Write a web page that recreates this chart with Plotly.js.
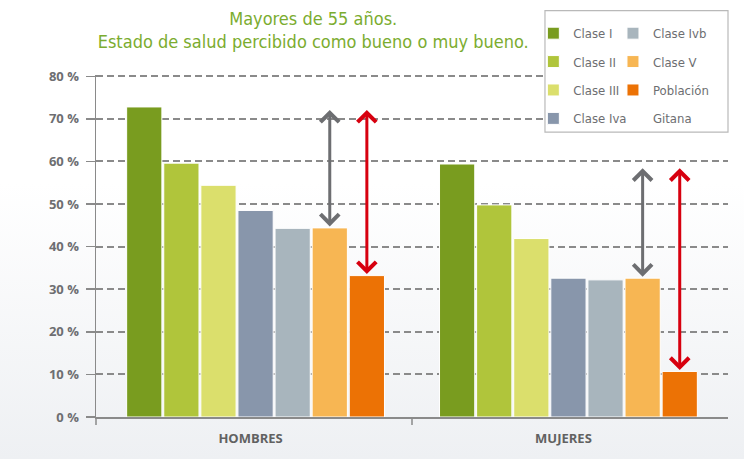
<!DOCTYPE html>
<html><head><meta charset="utf-8">
<script src="https://cdn.plot.ly/plotly-3.0.1.min.js"></script>
<style>
html,body{margin:0;padding:0;}
body{width:744px;height:459px;background:linear-gradient(to bottom,#ffffff 0%,#ffffff 40%,#eef0f3 100%);}
#chart{width:744px;height:459px;}
</style>
</head><body><div id="chart"></div>
<script>
// ---- data ----
const categories = ['HOMBRES', 'MUJERES'];
const seriesNames = ['Clase I', 'Clase II', 'Clase III', 'Clase Iva', 'Clase Ivb', 'Clase V', 'Población'];
const claseI = [72.8, 59.4];
const claseII = [59.6, 49.8];
const claseIII = [54.4, 41.9];
const claseIVa = [48.5, 32.6];
const claseIVb = [44.3, 32.2];
const claseV = [44.4, 32.6];
const poblacionGitana = [33.2, 10.7];
const gapTop = [72.1, 58.4];          // upper ends of the comparison arrows
const yTickVals = [0, 10, 20, 30, 40, 50, 60, 70, 80];
const yTickText = yTickVals.map(v => v + ' %');
const legendExtraLine = 'Gitana';

// ---- styles ----
const colors = ['#799c1f', '#b0c53b', '#dbdf6c', '#8896ab', '#a8b5bd', '#f7b653', '#ec7205'];
const seriesValues = [claseI, claseII, claseIII, claseIVa, claseIVb, claseV, poblacionGitana];
const legendOf = ['legend', 'legend', 'legend', 'legend', 'legend2', 'legend2', 'legend2'];
const BARGAP = 0.17;
const condensed = '"Liberation Sans Narrow", "DejaVu Sans Condensed", "Arial Narrow", Roboto, sans-serif';

const traces = seriesValues.map((vals, j) => ({
  type: 'bar',
  name: seriesNames[j],
  x: categories,
  y: vals,
  marker: {color: colors[j], line: {color: '#ffffff', width: 1}},
  legend: legendOf[j],
  legendgroup: 'g' + j,
  hoverinfo: 'skip'
}));
traces.push({
  type: 'scatter', mode: 'lines', name: legendExtraLine,
  x: [null], y: [null], line: {width: 0, color: 'rgba(0,0,0,0)'},
  legend: 'legend2', legendgroup: 'gx', hoverinfo: 'skip'
});

// arrow x positions computed from group layout
const nS = seriesValues.length;
function slotX(i, j) {
  const w = (1 - BARGAP);
  return i - w / 2 + (j + 0.5) * w / nS;
}
const annotations = [];
categories.forEach((c, i) => {
  [[5, '#6d6e71'], [6, '#d7000f']].forEach(([j, col]) => {
    annotations.push({
      x: slotX(i, j), y: gapTop[i], xref: 'x', yref: 'y',
      ax: slotX(i, j), ay: seriesValues[j][i], axref: 'x', ayref: 'y',
      showarrow: true, arrowside: 'end+start', arrowhead: 4, startarrowhead: 4,
      arrowsize: 1.2, startarrowsize: 1.2, arrowwidth: 3, arrowcolor: col,
      standoff: 0, startstandoff: 0, text: ''
    });
  });
});

const legendFont = {family: condensed, size: 13, color: '#6d6e71'};
const layout = {
  width: 744, height: 459,
  paper_bgcolor: 'rgba(0,0,0,0)', plot_bgcolor: 'rgba(0,0,0,0)',
  margin: {l: 96, r: 16, t: 75, b: 42, autoexpand: false},
  barmode: 'group', bargap: BARGAP, bargroupgap: 0.05,
  title: {
    text: 'Mayores de 55 años.<br>Estado de salud percibido como bueno o muy bueno.',
    x: 0.421, xanchor: 'center', y: 0.946, yanchor: 'top',
    font: {family: condensed, size: 18, color: '#7bac2f'}
  },
  xaxis: {
    type: 'category', range: [-0.51, 1.51],
    showline: true, linecolor: '#8a8a8a', linewidth: 1.5,
    ticks: '', showgrid: false,
    tickfont: {family: 'Open Sans, sans-serif', size: 13, color: '#616161', weight: 'bold'},
    ticklabelstandoff: 9, ticklabelshift: -5
  },
  yaxis: {
    range: [0, 80.3], tickmode: 'array', tickvals: yTickVals, ticktext: yTickText,
    showline: true, linecolor: '#8a8a8a', linewidth: 1.5,
    ticks: 'outside', ticklen: 9, tickcolor: '#8a8a8a', tickwidth: 1.5,
    ticklabelstandoff: 4,
    showgrid: true, gridcolor: '#8a8a8a', gridwidth: 2, griddash: '7px,4px',
    zeroline: false,
    tickfont: {family: 'Open Sans, sans-serif', size: 13, color: '#6d6e71', weight: 'bold'}
  },
  legend: {
    x: 0.692, y: 1.166, xanchor: 'left', yanchor: 'top',
    bgcolor: 'rgba(0,0,0,0)', traceorder: 'grouped', tracegroupgap: 8.5,
    font: legendFont, itemwidth: 30
  },
  legend2: {
    x: 0.818, y: 1.166, xanchor: 'left', yanchor: 'top',
    bgcolor: 'rgba(0,0,0,0)', traceorder: 'grouped', tracegroupgap: 8.5,
    font: legendFont, itemwidth: 30
  },
  shapes: [
    {type: 'rect', xref: 'paper', yref: 'paper', x0: 0.7104, x1: 1.0, y0: 0.833, y1: 1.188,
     fillcolor: '#ffffff', line: {color: '#b9b9b9', width: 1.2}, layer: 'above'},
    {type: 'line', xref: 'x', yref: 'paper', x0: 0.5, x1: 0.5, ysizemode: 'pixel', yanchor: 0,
     y0: 0, y1: -8, line: {color: '#8a8a8a', width: 1.5}},
    {type: 'line', xref: 'paper', yref: 'paper', x0: 0, x1: 0, ysizemode: 'pixel', yanchor: 0,
     y0: 0, y1: -8, line: {color: '#8a8a8a', width: 1.5}}
  ],
  annotations: annotations,
  showlegend: true
};

Plotly.newPlot('chart', traces, layout, {staticPlot: true});
</script>
</body></html>
